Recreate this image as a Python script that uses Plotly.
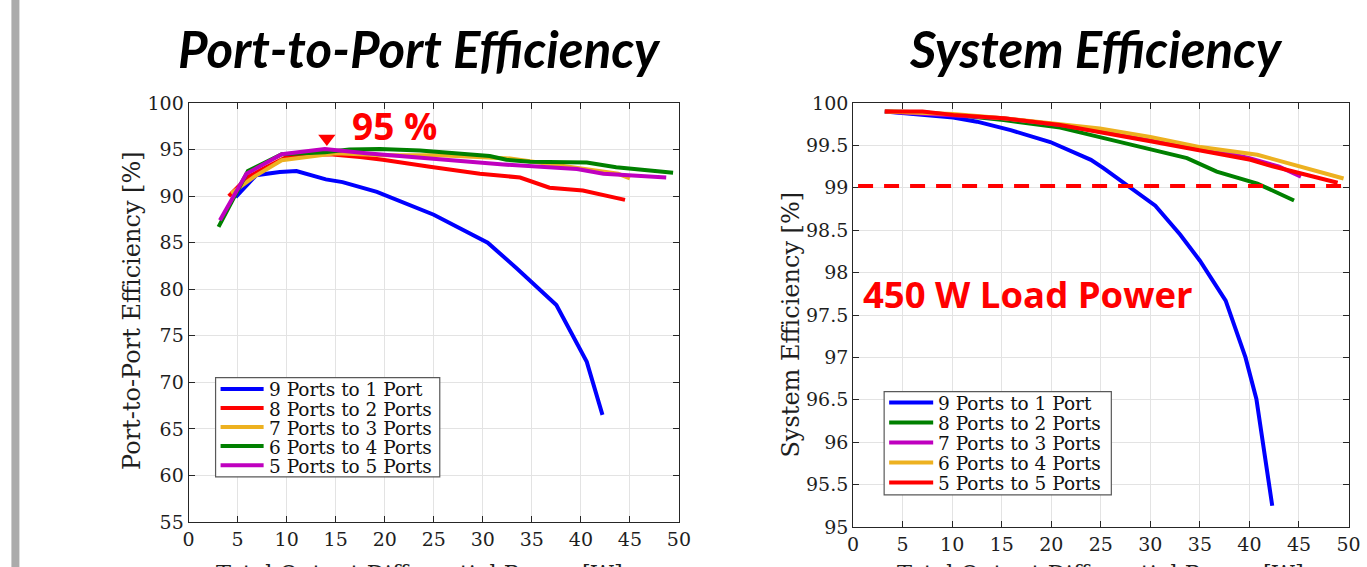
import plotly.graph_objects as go

# ---------------- data: Port-to-Port efficiency ----------------
p2p_names = ["9 Ports to 1 Port", "8 Ports to 2 Ports", "7 Ports to 3 Ports",
             "6 Ports to 4 Ports", "5 Ports to 5 Ports"]
p2p_colors = ["#0000FF", "#FF0000", "#EDB120", "#008000", "#BF00BF"]

p2p_blue_x = [4.8, 6.9, 9.3, 11, 14, 15.7, 19.2, 21.5, 25, 30.5, 33.5, 37.5, 40.6, 42.2]
p2p_blue_y = [89.9, 92.25, 92.6, 92.7, 91.8, 91.5, 90.45, 89.5, 88, 85, 82.2, 78.3, 72.2, 66.5]
p2p_red_x = [4.1, 6, 7.9, 10, 12, 14.4, 17.5, 19.8, 24.6, 29.7, 33.8, 36.8, 40.2, 44.5]
p2p_red_y = [90, 92, 93.1, 94.2, 94.4, 94.5, 94.2, 93.9, 93.15, 92.4, 92.0, 90.9, 90.6, 89.6]
p2p_orange_x = [4.35, 6.7, 9.5, 15, 20, 25.6, 32.8, 37, 40.9, 43.8, 45]
p2p_orange_y = [90.3, 92.1, 93.85, 94.6, 94.4, 94.4, 94.05, 93.4, 92.9, 92.4, 91.9]
p2p_green_x = [3.06, 6.05, 9.5, 13.9, 16.4, 19.5, 23.6, 30.7, 32.4, 34.8, 40.6, 43.6, 49.4]
p2p_green_y = [86.7, 92.7, 94.5, 94.7, 95.0, 95.05, 94.9, 94.3, 93.9, 93.7, 93.6, 93.1, 92.5]
p2p_magenta_x = [3.2, 5.9, 9.5, 13.9, 18.1, 26.3, 32.1, 39.6, 42.3, 48.7]
p2p_magenta_y = [87.4, 92.4, 94.5, 95.05, 94.6, 93.9, 93.4, 92.9, 92.4, 92.0]

p2p_peak_x = [14.1]
p2p_peak_y = [96.2]

# ---------------- data: System efficiency ----------------
sys_names = ["9 Ports to 1 Port", "8 Ports to 2 Ports", "7 Ports to 3 Ports",
             "6 Ports to 4 Ports", "5 Ports to 5 Ports"]
sys_colors = ["#0000FF", "#008000", "#BF00BF", "#EDB120", "#FF0000"]

sys_blue_x = [3.2, 5.1, 10.1, 12.5, 15.9, 19.9, 24, 25.3, 27.6, 30.5, 33, 35, 37.6, 39.6, 40.7, 42.3]
sys_blue_y = [99.9, 99.88, 99.83, 99.78, 99.68, 99.54, 99.33, 99.23, 99.04, 98.79, 98.45, 98.14, 97.67, 97.0, 96.51, 95.25]
sys_green_x = [3.2, 7, 10.1, 15.2, 20.9, 26, 30.3, 33.7, 36.7, 40.8, 44.5]
sys_green_y = [99.9, 99.89, 99.86, 99.8, 99.71, 99.57, 99.44, 99.35, 99.19, 99.05, 98.85]
sys_magenta_x = [3.2, 10.1, 15.2, 20.9, 26, 30, 32.3, 37, 40, 43, 45.2]
sys_magenta_y = [99.9, 99.86, 99.82, 99.74, 99.64, 99.56, 99.52, 99.43, 99.35, 99.25, 99.13]
sys_orange_x = [3.2, 10.1, 15.2, 20.9, 24.9, 30, 35.05, 40.8, 43.8, 49.5]
sys_orange_y = [99.9, 99.87, 99.82, 99.75, 99.7, 99.6, 99.48, 99.39, 99.29, 99.11]
sys_red_x = [3.2, 7, 10.1, 15.2, 20.9, 24.9, 30, 35.05, 40.1, 41.8, 45.2, 48.9]
sys_red_y = [99.9, 99.9, 99.86, 99.82, 99.74, 99.66, 99.55, 99.44, 99.33, 99.27, 99.17, 99.06]

sys_limit = 99.02

x_ticks = [0, 5, 10, 15, 20, 25, 30, 35, 40, 45, 50]
p2p_y_ticks = [55, 60, 65, 70, 75, 80, 85, 90, 95, 100]
sys_y_ticks = [95, 95.5, 96, 96.5, 97, 97.5, 98, 98.5, 99, 99.5, 100]
sys_y_ticktext = ["95", "95.5", "96", "96.5", "97", "97.5", "98", "98.5", "99", "99.5", "100"]

# ---------------- layout helpers (target picture px -> paper fraction) ----------------
W, H = 1367, 567
SX, AX = 0.986, 6.6
SY, AY = 0.959, 11.2


def fx(t):
    return ((t - AX) / SX) / W


def fy(t):
    return 1 - ((t - AY) / SY) / H


fig = go.Figure()

p2p_series = [(p2p_blue_x, p2p_blue_y), (p2p_red_x, p2p_red_y), (p2p_orange_x, p2p_orange_y),
              (p2p_green_x, p2p_green_y), (p2p_magenta_x, p2p_magenta_y)]
for (xs, ys), name, col in zip(p2p_series, p2p_names, p2p_colors):
    fig.add_trace(go.Scatter(x=xs, y=ys, mode="lines", name=name, showlegend=False,
                             line=dict(color=col, width=4), xaxis="x", yaxis="y"))

fig.add_trace(go.Scatter(x=p2p_peak_x, y=p2p_peak_y, mode="markers", showlegend=False,
                         marker=dict(symbol="triangle-down", size=15, color="#FF0000"),
                         xaxis="x", yaxis="y"))

sys_series = [(sys_blue_x, sys_blue_y), (sys_green_x, sys_green_y), (sys_magenta_x, sys_magenta_y),
              (sys_orange_x, sys_orange_y), (sys_red_x, sys_red_y)]
for (xs, ys), name, col in zip(sys_series, sys_names, sys_colors):
    fig.add_trace(go.Scatter(x=xs, y=ys, mode="lines", name=name, showlegend=False,
                             line=dict(color=col, width=4), xaxis="x2", yaxis="y2"))

fig.add_shape(type="line", xref="x2 domain", yref="y2", x0=0.01, x1=1.006,
              y0=sys_limit, y1=sys_limit,
              line=dict(color="#FF0000", width=4, dash="15px,11px"))

tick_font = dict(family="DejaVu Serif", size=19, color="#1e1e1e")
axis_common = dict(showline=True, linecolor="#262626", linewidth=1, mirror="allticks",
                   ticks="inside", ticklen=6, tickcolor="#262626",
                   showgrid=True, gridcolor="#e3e3e3", gridwidth=1,
                   zeroline=False, tickfont=tick_font, fixedrange=True)

fig.update_layout(
    width=W, height=H, autosize=False,
    margin=dict(l=0, r=0, t=0, b=0, pad=0),
    paper_bgcolor="white", plot_bgcolor="white",
    showlegend=False,
    xaxis=dict(domain=[fx(189), fx(679)], range=[0, 50], tickvals=x_ticks, anchor="y", **axis_common),
    yaxis=dict(domain=[fy(521), fy(103)], range=[55, 100], tickvals=p2p_y_ticks,
               anchor="x", **axis_common),
    xaxis2=dict(domain=[fx(853), fx(1348)], range=[0, 50], tickvals=x_ticks, anchor="y2", **axis_common),
    yaxis2=dict(domain=[fy(526), fy(103)], range=[95, 100], tickvals=sys_y_ticks,
                ticktext=sys_y_ticktext, anchor="x2", **axis_common),
)

# gray vertical bar at the left of the slide
fig.add_shape(type="rect", xref="paper", yref="paper", x0=fx(12), x1=fx(20), y0=-0.05, y1=1.05,
              fillcolor="#ababab", line=dict(width=0), layer="below")


# ---------------- hand-drawn MATLAB-style legends ----------------
def draw_legend(names, colors, box, line_x0, line_x1, text_x, first_y, step):
    bx0, by0, bx1, by1 = box
    fig.add_shape(type="rect", xref="paper", yref="paper",
                  x0=fx(bx0), x1=fx(bx1), y0=fy(by1), y1=fy(by0),
                  fillcolor="white", line=dict(color="#595959", width=1.2))
    for i, (nm, col) in enumerate(zip(names, colors)):
        yy = first_y + i * step
        fig.add_shape(type="line", xref="paper", yref="paper",
                      x0=fx(line_x0), x1=fx(line_x1), y0=fy(yy), y1=fy(yy),
                      line=dict(color=col, width=4))
        fig.add_annotation(text=nm, xref="paper", yref="paper", x=fx(text_x), y=fy(yy + 1),
                           xanchor="left", yanchor="middle", showarrow=False,
                           font=dict(family="DejaVu Serif", size=18.5, color="#111111"))


draw_legend(p2p_names, p2p_colors, (216, 377, 440, 476), 221, 264, 267, 388.3, 19)
draw_legend(sys_names, sys_colors, (884, 391, 1111, 494), 889, 933, 936, 401.7, 20)

anns = [
    dict(text="<b><i>Port-to-Port Efficiency</i></b>", x=fx(420), y=fy(49),
         font=dict(family="Lato", size=51, color="black")),
    dict(text="<b><i>System Efficiency</i></b>", x=fx(1096), y=fy(49),
         font=dict(family="Lato", size=51, color="black")),
    dict(text="<b>95 %</b>", x=fx(395), y=fy(125),
         font=dict(family="Open Sans", size=37, color="#FF0000")),
    dict(text="<b>450 W Load Power</b>", x=fx(1028), y=fy(294),
         font=dict(family="Open Sans", size=36.5, color="#FF0000")),
    dict(text="Port-to-Port Efficiency [%]", x=fx(133), y=fy(310), textangle=-90,
         font=dict(family="DejaVu Serif", size=24, color="#1e1e1e")),
    dict(text="System Efficiency [%]", x=fx(790), y=fy(324), textangle=-90,
         font=dict(family="DejaVu Serif", size=24, color="#1e1e1e")),
]
for a in anns:
    fig.add_annotation(xref="paper", yref="paper", showarrow=False,
                       xanchor="center", yanchor="middle", **a)

for cx in (420, 1100):
    fig.add_annotation(text="Total Output Differential Power [W]", xref="paper", yref="paper",
                       x=fx(cx), y=fy(557), xanchor="center", yanchor="top", showarrow=False,
                       font=dict(family="DejaVu Serif", size=22.5, color="#1e1e1e"))

fig.write_html("out.html",
               config={"displayModeBar": False},
               post_script="document.body.style.margin='0px';"
                           "document.body.style.padding='0px';"
                           "document.body.style.overflow='hidden';"
                           "document.documentElement.style.overflow='hidden';")
